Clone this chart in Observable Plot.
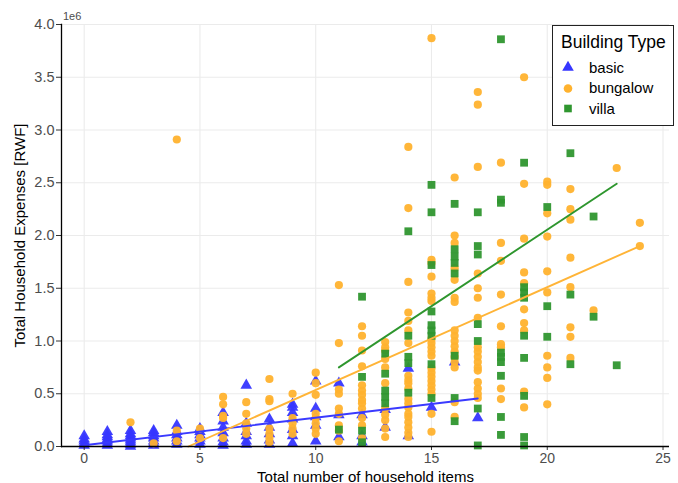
<!DOCTYPE html>
<html>
<head>
<meta charset="utf-8">
<script src="https://cdn.jsdelivr.net/npm/d3@7"></script>
<script src="https://cdn.jsdelivr.net/npm/@observablehq/plot@0.6"></script>
<style>
  body { margin: 0; background: #fff; font-family: "Liberation Sans", Arial, sans-serif; }
  #wrap { position: relative; width: 678px; height: 483px; }
  #exp { position: absolute; left: 63px; top: 10px; font-size: 11px; color: #4d4d4d; }
  #legend { position: absolute; left: 552px; top: 25px; width: 120px; height: 99px; border: 1.3px solid #222; background: #fff; }
  #legend .title { position: absolute; left: 8px; top: 6px; font-size: 17.5px; color: #000; white-space: nowrap; }
  #legend .item { position: absolute; left: 7px; height: 20px; display: flex; align-items: center; font-size: 15px; color: #000; white-space: nowrap; }
  #legend .item svg { margin-right: 13px; }
</style>
</head>
<body>
<div id="wrap">
  <div id="chart"></div>
  <div id="exp">1e6</div>
  <div id="legend"></div>
</div>
<script>
// Categories and colours
const categories = ["basic", "bungalow", "villa"];
const symbols = ["triangle", "circle", "square"];
const colors = ["#3636ff", "#ffb22e", "#2f962f"];
const lineColors = ["#3a3aff", "#ffb437", "#2e962e"];

// Household items (x) and expenses in millions RWF (y), per building type
const basicItems = [0, 1, 2, 3, 4, 5, 6, 7, 8, 9, 10, 11, 12, 13, 14, 15, 16, 17];
const basicExpenses = [
  [0.01, 0.03, 0.05, 0.07, 0.1],
  [0.01, 0.03, 0.05, 0.07, 0.09, 0.11, 0.14],
  [0.0, 0.02, 0.04, 0.06, 0.08, 0.1, 0.12, 0.15],
  [0.01, 0.03, 0.05, 0.08, 0.1, 0.13, 0.15],
  [0.02, 0.05, 0.08, 0.11, 0.14, 0.2],
  [0.02, 0.05, 0.08, 0.11, 0.14, 0.17],
  [0.01, 0.04, 0.08, 0.13, 0.18, 0.24, 0.32],
  [0.02, 0.05, 0.1, 0.14, 0.22, 0.58],
  [0.02, 0.06, 0.12, 0.18, 0.26],
  [0.03, 0.1, 0.16, 0.26, 0.32, 0.37, 0.4],
  [0.05, 0.2, 0.28, 0.36, 0.62],
  [0.09, 0.3, 0.6],
  [0.04, 0.1, 0.3],
  [0.18, 0.35],
  [0.1, 0.74],
  [0.37],
  [0.8],
  [0.27]
];

const bungalowItems = [2, 3, 4, 5, 6, 7, 8, 9, 10, 11, 12, 13, 14, 15, 16, 17, 18, 19, 20, 21, 22, 23, 24];
const bungalowExpenses = [
  [0.23],
  [0.03],
  [0.05, 0.15, 2.91],
  [0.08, 0.17],
  [0.08, 0.27, 0.29, 0.4, 0.47],
  [0.12, 0.17, 0.22, 0.31, 0.42],
  [0.04, 0.08, 0.12, 0.17, 0.43, 0.45, 0.64],
  [0.12, 0.17, 0.22, 0.27, 0.5],
  [0.12, 0.17, 0.22, 0.27, 0.31, 0.49, 0.6, 0.7],
  [0.05, 0.15, 0.2, 0.31, 0.36, 0.5, 0.54, 0.98, 1.53],
  [0.08, 0.2, 0.27, 0.36, 0.41, 0.44, 0.49, 0.53, 0.58, 0.76, 0.91, 1.05, 1.14],
  [0.09, 0.17, 0.25, 0.3, 0.36, 0.6, 0.75, 0.83, 0.91, 0.94, 0.99],
  [0.09, 0.13, 0.18, 0.23, 0.28, 0.31, 0.37, 0.41, 0.45, 0.55, 0.6, 0.63, 0.67, 0.98, 1.1, 1.19, 1.27, 1.56, 2.26, 2.84],
  [0.14, 0.31, 0.5, 0.54, 0.58, 0.62, 0.66, 0.7, 0.74, 0.86, 0.9, 0.94, 0.98, 1.02, 1.38, 1.41, 1.45, 1.61, 1.74, 1.77, 3.87],
  [0.28, 0.42, 0.75, 0.8, 0.85, 0.9, 0.95, 1.0, 1.05, 1.1, 1.37, 1.41, 1.58, 1.69, 1.93, 2.0, 2.55],
  [0.46, 0.5, 0.55, 0.61, 0.72, 0.75, 0.8, 0.85, 0.9, 0.94, 1.22, 1.41, 1.5, 1.64, 2.65, 3.24, 3.36],
  [0.45, 0.55, 0.94, 0.97, 1.14, 1.44, 1.76, 1.93, 2.69],
  [0.37, 0.52, 1.1, 1.17, 1.3, 1.55, 1.65, 1.97, 2.49, 3.5],
  [0.4, 0.65, 0.75, 0.86, 1.46, 1.66, 1.99, 2.21, 2.48, 2.51],
  [0.84, 1.04, 1.13, 1.51, 1.79, 2.15, 2.25, 2.44],
  [1.29],
  [2.64],
  [1.9, 2.12]
];

const villaItems = [11, 12, 13, 14, 15, 16, 17, 18, 19, 20, 21, 22, 23];
const villaExpenses = [
  [0.16],
  [0.04, 0.15, 0.66, 1.42],
  [0.41, 0.47, 0.53, 0.69, 0.88],
  [0.51, 0.79, 0.85, 1.05, 2.04],
  [0.46, 0.78, 1.05, 1.1, 1.15, 1.28, 1.72, 2.22, 2.48],
  [0.24, 0.46, 0.86, 1.64, 1.74, 1.8, 1.87, 2.3],
  [0.01, 0.36, 1.0, 1.16, 1.82, 1.9, 2.22],
  [0.11, 0.28, 0.67, 0.8, 0.85, 0.89, 2.31, 2.34, 3.86],
  [0.01, 0.09, 0.48, 0.84, 1.05, 1.41, 1.46, 1.51, 2.69],
  [1.04, 1.33, 2.27],
  [0.78, 1.44, 2.78],
  [1.23, 2.18],
  [0.77]
];

// Linear-fit segments (visible part, clipped at 0)
const fitType = ["basic", "basic", "bungalow", "bungalow", "villa", "villa"];
const fitItems = [0, 17, 4.5, 24, 11, 23];
const fitExpenses = [0.012, 0.455, 0, 1.9, 0.75, 2.49];

// Ticks
const xTicks = [0, 5, 10, 15, 20, 25];
const yTicks = [0, 0.5, 1, 1.5, 2, 2.5, 3, 3.5, 4];

function rows(type, items, exps) {
  const out = [];
  items.forEach((x, i) => exps[i].forEach(y => out.push({type, x, y})));
  return out;
}
const basicRows = rows("basic", basicItems, basicExpenses);
const bungalowRows = rows("bungalow", bungalowItems, bungalowExpenses);
const villaRows = rows("villa", villaItems, villaExpenses);
const fits = fitType.map((t, i) => ({type: t, x: fitItems[i], y: fitExpenses[i]}));

const chart = Plot.plot({
  width: 678,
  height: 483,
  marginLeft: 61,
  marginRight: 9,
  marginTop: 24,
  marginBottom: 37,
  style: {fontFamily: "'Liberation Sans', Arial, sans-serif", fontSize: "14px", background: "#fff"},
  x: {domain: [-0.98, 25.28]},
  y: {domain: [0, 4]},
  color: {domain: categories, range: colors},
  symbol: {domain: categories, range: symbols},
  marks: [
    Plot.gridX(xTicks, {stroke: "#ebebeb", strokeOpacity: 1, strokeWidth: 1.1}),
    Plot.gridY(yTicks, {stroke: "#ebebeb", strokeOpacity: 1, strokeWidth: 1.1}),
    Plot.dot(basicRows, {x: "x", y: "y", fill: "type", symbol: "type", r: 4.3, fillOpacity: 0.95}),
    Plot.dot(bungalowRows, {x: "x", y: "y", fill: "type", symbol: "type", r: 4.1, fillOpacity: 0.95}),
    Plot.dot(villaRows, {x: "x", y: "y", fill: "type", symbol: "type", r: 4.4, fillOpacity: 0.95}),
    Plot.line(fits, {x: "x", y: "y", z: "type", stroke: d => lineColors[categories.indexOf(d.type)], strokeWidth: 1.9}),
    Plot.axisX(xTicks, {tickSize: 4, tickPadding: 3, fontSize: 14, label: "Total number of household items", labelAnchor: "center", labelOffset: 35, labelArrow: "none"}),
    Plot.axisY(yTicks, {tickSize: 5, tickPadding: 2, fontSize: 14.5, tickFormat: d => d.toFixed(1), label: "Total Household Expenses [RWF]", labelAnchor: "center", labelOffset: 47, labelArrow: "none"}),
    Plot.ruleY([0], {stroke: "#000", strokeWidth: 1.3}),
    Plot.frame({anchor: "left", stroke: "#000", strokeWidth: 1.3})
  ]
});
document.getElementById("chart").appendChild(chart);

// Style axis text (ggplot-like: grey tick labels, black titles)
const svg = d3.select(chart);
svg.selectAll('g[aria-label="x-axis tick label"] text, g[aria-label="y-axis tick label"] text').attr("fill", "#4d4d4d");
svg.selectAll('g[aria-label="x-axis label"] text, g[aria-label="y-axis label"] text').attr("fill", "#000").style("font-size", "15px");
svg.selectAll('g[aria-label="x-axis tick"], g[aria-label="y-axis tick"]').attr("stroke", "#333");

// Legend (HTML)
const legend = d3.select("#legend");
legend.append("div").attr("class", "title").text("Building Type");
categories.forEach((c, i) => {
  const item = legend.append("div").attr("class", "item").style("top", (31 + i * 20.5) + "px");
  const s = item.append("svg").attr("width", 16).attr("height", 16);
  const sym = {triangle: d3.symbolTriangle, circle: d3.symbolCircle, square: d3.symbolSquare}[symbols[i]];
  s.append("path").attr("transform", "translate(8,8.5)").attr("d", d3.symbol(sym, Math.PI * 4.3 * 4.3)()).attr("fill", colors[i]);
  item.append("span").text(c);
});
</script>
</body>
</html>
